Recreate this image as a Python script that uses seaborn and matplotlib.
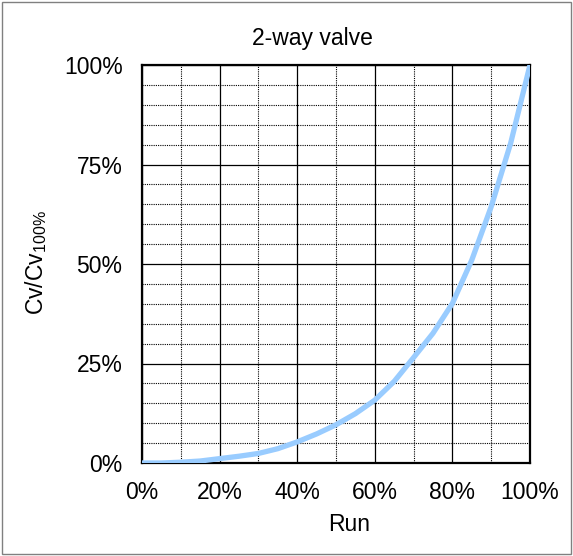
import numpy as np
import pandas as pd
import matplotlib
matplotlib.use("Agg")
import matplotlib.pyplot as plt
import seaborn as sns
from matplotlib.ticker import MultipleLocator, PercentFormatter
from matplotlib.patches import Rectangle

# valve characteristic every 5% of run (fractions)
run = [0.00, 0.05, 0.10, 0.15, 0.20, 0.25, 0.30, 0.35, 0.40, 0.45, 0.50,
       0.55, 0.60, 0.65, 0.70, 0.75, 0.80, 0.85, 0.90, 0.95, 1.00]
cv_ratio = [0.000, 0.000, 0.002, 0.005, 0.011, 0.017, 0.024, 0.036, 0.053, 0.073, 0.096,
            0.124, 0.158, 0.205, 0.265, 0.326, 0.401, 0.51, 0.644, 0.803, 1.000]

title = "2-way valve"
x_label = "Run"
y_label = r"Cv/Cv$_{\mathregular{100\%}}$"

sns.set_style("white")
plt.rcParams["font.family"] = ["Liberation Sans", "DejaVu Sans"]
plt.rcParams["mathtext.fontset"] = "custom"
plt.rcParams["mathtext.rm"] = "Liberation Sans"

df = pd.DataFrame({"run": run, "cv": cv_ratio})

fig = plt.figure(figsize=(5.73, 5.56), dpi=100)
ax = fig.add_axes([142 / 573, 1 - 463 / 556, 388 / 573, 398 / 556])

sns.lineplot(data=df, x="run", y="cv", color="#99CCFF", linewidth=3.8, ax=ax, zorder=5)

ax.set_xlim(0, 1)
ax.set_ylim(0, 1)
ax.xaxis.set_major_locator(MultipleLocator(0.2))
ax.xaxis.set_minor_locator(MultipleLocator(0.1))
ax.yaxis.set_major_locator(MultipleLocator(0.25))
ax.yaxis.set_minor_locator(MultipleLocator(0.05))
ax.xaxis.set_major_formatter(PercentFormatter(1.0, decimals=0))
ax.yaxis.set_major_formatter(PercentFormatter(1.0, decimals=0))

ax.grid(which="major", color="black", linewidth=0.9, linestyle="-")
ax.grid(which="minor", color="black", linewidth=0.8, linestyle=(0, (1, 1)))
ax.set_axisbelow(True)

for s in ax.spines.values():
    s.set_visible(True)
    s.set_color("black")
    s.set_linewidth(1.6)

fs = 16.5
ax.tick_params(axis="both", which="major", direction="out", length=6, width=0.9,
               color="black", labelsize=fs, labelcolor="black")
ax.tick_params(axis="x", which="major", pad=7)
ax.tick_params(axis="y", which="major", pad=8)
ax.tick_params(which="minor", length=0)

ax.set_xlabel(x_label, fontsize=fs, color="black")
ax.set_ylabel(y_label, fontsize=fs, color="black")
ax.xaxis.set_label_coords((349 - 142) / 388, -(513 - 463) / 398)
ax.yaxis.set_label_coords(-(142 - 49) / 388, (463 - 263) / 398)

fig.text(312 / 573, 1 - 38 / 556, title, ha="center", va="center", fontsize=fs, color="black")

fig.patches.append(Rectangle((2 / 573, 2 / 556), 569 / 573, 552 / 556, transform=fig.transFigure,
                             fill=False, edgecolor="#808080", linewidth=1.0))

fig.savefig("out.png", dpi=100, facecolor="white")
